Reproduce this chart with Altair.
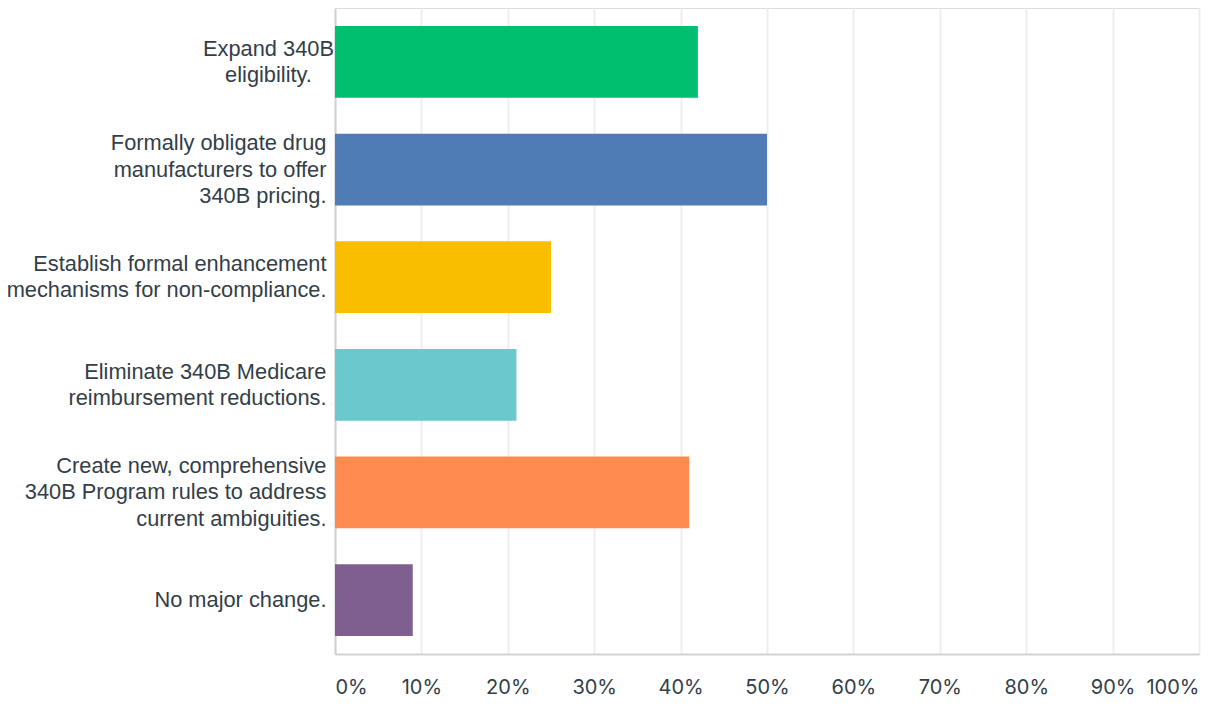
import altair as alt
import pandas as pd

categories = [
    "Expand 340B|eligibility.",
    "Formally obligate drug|manufacturers to offer|340B pricing.",
    "Establish formal enhancement|mechanisms for non-compliance.",
    "Eliminate 340B Medicare|reimbursement reductions.",
    "Create new, comprehensive|340B Program rules to address|current ambiguities.",
    "No major change.",
]
values = [42, 50, 25, 21, 41, 9]
colors = ["#00BF6F", "#507CB6", "#F9BE00", "#6BC8CD", "#FF8B4F", "#7F5F90"]
tick_values = [0, 10, 20, 30, 40, 50, 60, 70, 80, 90, 100]

df = pd.DataFrame({"answer": categories, "pct": values})

text_color = "#333E48"
line_h = 26.5
first_test = "indexof(datum.value, 'Expand') == 0"

chart = (
    alt.Chart(df)
    .mark_bar()
    .encode(
        y=alt.Y(
            "answer:N",
            sort=categories,
            scale=alt.Scale(paddingInner=0.333, paddingOuter=0.167),
            axis=alt.Axis(
                title=None,
                labelExpr="split(datum.label, '|')",
                labelFont="Liberation Sans",
                labelFontSize=21.8,
                labelLineHeight=line_h,
                labelColor=text_color,
                labelLimit=400,
                labelAlign={"condition": {"test": first_test, "value": "center"}, "value": "right"},
                labelPadding={"condition": {"test": first_test, "value": 67}, "value": 9},
                labelOffset={
                    "condition": [
                        {"test": "length(split(datum.value, '|')) == 3", "value": -line_h},
                        {"test": "length(split(datum.value, '|')) == 2", "value": -line_h / 2},
                    ],
                    "value": 0,
                },
                ticks=False,
                domainColor="#D0D2D3",
                domainWidth=2,
                grid=False,
            ),
        ),
        x=alt.X(
            "pct:Q",
            scale=alt.Scale(domain=[0, 100], nice=False),
            axis=alt.Axis(
                title=None,
                values=tick_values,
                labelExpr="datum.value + '%'",
                labelFlush=True,
                labelFont="Inter",
                labelFontSize=20,
                labelColor=text_color,
                labelPadding=23,
                ticks=False,
                domainColor="#D0D2D3",
                domainWidth=2,
                grid=True,
                gridColor="#EDEEEE",
                gridWidth=2,
            ),
        ),
        color=alt.Color("answer:N", sort=categories, scale=alt.Scale(domain=categories, range=colors), legend=None),
    )
    .properties(
        width=864,
        height=646,
        autosize=alt.AutoSizeParams(type="none"),
        padding={"left": 327, "top": 0, "right": 2, "bottom": 46},
    )
    .configure_view(stroke=None)
    .configure(background="white")
)

chart.save("out.html", embed_options={"renderer": "svg", "actions": False})
